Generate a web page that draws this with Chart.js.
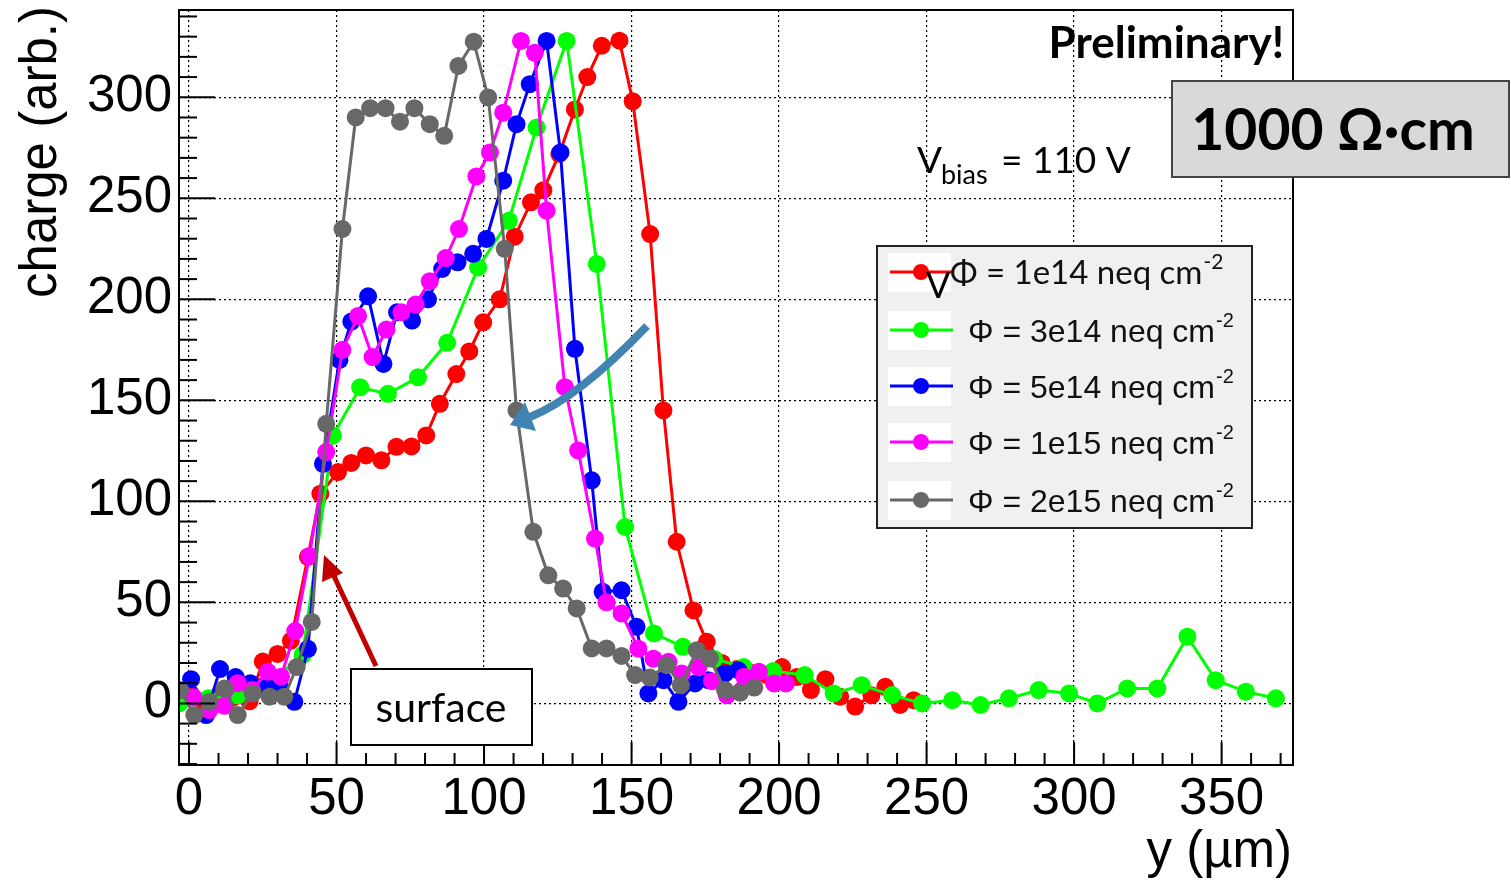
<!DOCTYPE html>
<html lang="en">
<head>
  <meta charset="UTF-8">
  <title>Charge profile vs depth, 1000 Ohm cm</title>
  <script src="https://cdn.jsdelivr.net/npm/chart.js"></script>
  <style>
    body {
      margin: 0;
      background: #fff;
    }

    #wrap {
      position: relative;
      width: 1511px;
      height: 882px;
    }
  </style>
</head>
<body>
  <div id="wrap"><canvas id="chartCharge"></canvas></div>

  <script>
    // tick labels
    const xTicks = [0, 50, 100, 150, 200, 250, 300, 350];
    const yTicks = [0, 50, 100, 150, 200, 250, 300];

    // fluence labels (legend), same order as the series below
    const fluences = ['1e14', '3e14', '5e14', '1e15', '2e15'];

    // Phi = 1e14 : y (um) and charge (arb.)
    const y1e14 = [0.5, 5, 10, 15, 20.5, 25, 30, 34.5, 40.3, 44.5, 50.5, 55, 60, 65.2, 70.3, 75.4, 80.4, 85, 90.6, 95,
      99.7, 105.3, 110.4, 115.9, 120.1, 125.5, 130.8, 135, 139.9, 145.9, 150.4, 156.3, 160.8, 165.3, 171,
      175.5, 180.6, 185.7, 190.8, 195.9, 201, 206, 210.8, 215.7, 220.7, 225.8, 231.3, 236, 241, 245.6];
    const q1e14 = [5, 1, 4, 3, 1, 20.7, 24.5, 31, 72.5, 103.8, 114.5, 119, 122.7, 120.3, 127, 127.2, 132.6, 148.3, 163, 174.2,
      188.6, 200, 231, 248, 254, 272, 294, 310, 325.5, 328, 298, 232.3, 145, 80, 46,
      30.5, 20, 17, 15, 14, 18, 13, 6.6, 12, 3.3, -1.6, 4, 8.2, -0.8, 1.6];

    // Phi = 3e14
    const y3e14 = [-3.3, 6.5, 16.5, 28, 38.5, 48.8, 58, 67.4, 77.6, 87.5, 98, 108.4, 117.8, 128, 138.2, 147.8, 157.6,
      167.4, 178, 188, 198, 208.7, 218.5, 228, 238.3, 248.5, 258.7, 268.3, 277.9, 288, 298.3, 307.9, 318,
      328.2, 338.4, 348, 358.2, 368.4];
    const q3e14 = [0, 2.5, 4, 11, 24, 132.6, 156.5, 153.2, 161.4, 178.5, 215.8, 238.9, 285, 327.9, 217.5, 87.3, 34.6,
      28, 22, 18, 16, 14, 4.9, 9, 4.1, 0, 1.6, -0.8, 2.5, 6.6, 4.9, 0, 7.4,
      7.4, 33, 11.5, 5.8, 2.5];

    // Phi = 5e14
    const y5e14 = [0.7, 5.8, 10.5, 15.8, 20.8, 25.8, 30.8, 35.7, 40.3, 45.4, 51, 55, 60.7, 65.9, 70.5, 75.6, 81, 85.8,
      91, 96.3, 100.8, 106.5, 111, 115.5, 121.2, 125.9, 130.8, 136.5, 140.2, 146.6, 151.7, 155.7, 160.8,
      165.9, 171.5, 176, 181.7, 186.2];
    const q5e14 = [12, -5.8, 17, 13, 10, 9, 8, 0.8, 27, 118.6, 170, 189, 201.5, 168, 193.6, 189.5, 200, 215,
      218.3, 222.5, 229.9, 258.7, 286.7, 306.5, 327.9, 272.7, 175.5, 110.4, 55.2, 56, 37.9, 4.9, 11.5,
      0.8, 9.9, 11.5, 14.8, 16.4];

    // Phi = 1e15
    const y1e15 = [1.5, 6.9, 12, 16.5, 21.3, 26.7, 31.2, 36, 40.8, 46.5, 52, 57.3, 62.2, 66.9, 72, 76.8, 81.6, 87,
      91.5, 97.4, 102, 106.5, 112.5, 117.2, 121.2, 127.4, 131.9, 137.6, 141.5, 146.6, 152.3, 157.4, 162.5,
      167, 172.7, 177.3, 182.3, 188.2, 193.2, 198.3, 202.3];
    const q1e15 = [3, -3.3, -1.2, 10, 6.6, 15.6, 13.2, 35.8, 73, 124.4, 175, 191.8, 171.4, 185, 193.6, 197.4, 209, 220.4,
      234.8, 260.8, 272.7, 292.4, 327.9, 322, 243.9, 156.5, 125.2, 81.6, 50, 44.5, 27.1, 22.1, 20.6,
      14.8, 18, 11, 4, 13.2, 15.6, 9.9, 9.9];

    // Phi = 2e15
    const y2e15 = [-3, 1.8, 6.9, 12, 16.5, 21.6, 27.3, 32.3, 36.5, 41.6, 46.5, 52, 56.5, 61.4, 66.6, 71.5, 76.4, 81.6,
      86.5, 91.3, 96.5, 101.4, 107, 111, 116.7, 121.8, 126.8, 131.4, 136.5, 141.5, 146.6, 151.2, 156.2,
      161.9, 166.7, 172.1, 176.6, 181.7, 186.8, 191.6];
    const q2e15 = [6.6, -5.8, 0.8, 7.4, -5.8, 4.9, 3.3, 3.3, 18, 40.3, 138.4, 234.8, 290, 294.6, 294.6, 287.9, 294.6, 286.7,
      280.9, 315.5, 327.5, 299.9, 225, 145, 84.9, 63.4, 56.8, 47, 27.2, 27.2, 23.5, 14, 12.8,
      18.9, 9, 26.3, 22.2, 6.6, 5.3, 7.8];

    const colors = ['#ff0000', '#00ff00', '#0000ff', '#ff00ff', '#686868'];
    const allY = [y1e14, y3e14, y5e14, y1e15, y2e15];
    const allQ = [q1e14, q3e14, q5e14, q1e15, q2e15];

    const datasets = fluences.map((f, i) => ({
      label: 'Φ = ' + f + ' neq cm-2',
      data: allY[i].map((v, k) => ({ x: v, y: allQ[i][k] })),
      borderColor: colors[i],
      backgroundColor: colors[i],
      pointBackgroundColor: colors[i],
      pointBorderWidth: 0,
      pointRadius: 9,
      borderWidth: 3,
      showLine: true,
      order: fluences.length - i   // gray on top, red at the bottom
    }));

    function seg(ctx, x1, y1, x2, y2) {
      ctx.beginPath();
      ctx.moveTo(x1, y1);
      ctx.lineTo(x2, y2);
      ctx.stroke();
    }

    // frame, inner ticks, legend and the text/arrows pasted on the plot
    const decor = {
      id: 'decor',
      afterDraw(chart) {
        const { ctx, chartArea: a, scales: { x, y } } = chart;
        ctx.save();

        // frame
        ctx.strokeStyle = '#000';
        ctx.lineWidth = 2;
        ctx.strokeRect(a.left, a.top, a.right - a.left, a.bottom - a.top);

        // ROOT style ticks inside the frame
        for (let v = 0; v <= 370; v += 10) {
          const px = x.getPixelForValue(v);
          seg(ctx, px, a.bottom, px, a.bottom - (v % 50 === 0 ? 23 : 12));
        }
        for (let v = -30; v <= 340; v += 10) {
          const py = y.getPixelForValue(v);
          if (py > a.bottom || py < a.top) continue;
          seg(ctx, a.left, py, a.left + (v % 50 === 0 ? 36 : 18), py);
        }

        // axis titles
        ctx.fillStyle = '#000';
        ctx.font = '51px "Liberation Sans"';
        ctx.textAlign = 'right';
        ctx.textBaseline = 'alphabetic';
        ctx.fillText('y (µm)', 1292, 867);
        ctx.save();
        ctx.translate(56, 6);
        ctx.rotate(-Math.PI / 2);
        ctx.fillText('charge (arb.)', 0, 0);
        ctx.restore();

        // legend box
        ctx.fillStyle = '#f0f0f0';
        ctx.fillRect(877, 246, 375, 282);
        ctx.strokeStyle = '#222';
        ctx.lineWidth = 2;
        ctx.strokeRect(877, 246, 375, 282);
        const rows = [272, 330, 386, 442, 500];
        fluences.forEach((f, i) => {
          const ry = rows[i];
          ctx.fillStyle = '#fff';
          ctx.fillRect(888, ry - 19, 63, 39);
          ctx.strokeStyle = colors[i];
          ctx.lineWidth = 3;
          seg(ctx, 890, ry, 953, ry);
          ctx.fillStyle = colors[i];
          ctx.beginPath();
          ctx.arc(921, ry, 8, 0, Math.PI * 2);
          ctx.fill();

          ctx.fillStyle = '#111';
          ctx.textAlign = 'left';
          const main = 'Φ = ' + f + ' neq cm';
          let x0, w;
          if (i === 0) {
            ctx.font = '33px Lato';
            x0 = 950;
          } else {
            ctx.font = '32px "Liberation Sans"';
            x0 = 968;
          }
          ctx.fillText(main, x0, ry + 12);
          w = ctx.measureText(main).width;
          ctx.font = (i === 0 ? '21px Lato' : '20px "Liberation Sans"');
          ctx.fillText('-2', x0 + w + 1, ry - 3);
        });
        // stray "V" sitting on the first legend entry
        ctx.font = '36px Lato';
        ctx.fillStyle = '#000';
        ctx.fillText('V', 926, 298);

        // Preliminary!
        ctx.font = 'bold 44px Lato';
        ctx.textAlign = 'right';
        ctx.fillText('Preliminary!', 1284, 58);

        // V_bias = 110 V
        ctx.textAlign = 'left';
        ctx.font = '37px Lato';
        ctx.fillText('V', 917, 173);
        ctx.font = '27px Lato';
        ctx.fillText('bias', 941, 184);
        ctx.font = '37px Lato';
        ctx.fillText('= 110 V', 1001, 173);

        // resistivity box
        ctx.fillStyle = '#d9d9d9';
        ctx.fillRect(1172, 81, 337, 96);
        ctx.strokeStyle = '#444';
        ctx.lineWidth = 2;
        ctx.strokeRect(1172, 81, 337, 96);
        ctx.fillStyle = '#000';
        ctx.font = 'bold 57px Lato';
        ctx.textAlign = 'center';
        ctx.fillText('1000 Ω·cm', 1333, 150);

        // surface label + red arrow
        ctx.fillStyle = '#fff';
        ctx.fillRect(351, 669, 181, 76);
        ctx.strokeStyle = '#000';
        ctx.strokeRect(351, 669, 181, 76);
        ctx.fillStyle = '#000';
        ctx.font = '41px Lato';
        ctx.fillText('surface', 441, 722);

        ctx.strokeStyle = '#c00000';
        ctx.fillStyle = '#c00000';
        ctx.lineWidth = 5;
        seg(ctx, 376, 666, 333, 574);
        ctx.beginPath();
        ctx.moveTo(324, 555);
        ctx.lineTo(343, 573);
        ctx.lineTo(322, 582);
        ctx.closePath();
        ctx.fill();

        // blue curved arrow
        ctx.strokeStyle = '#4183b2';
        ctx.fillStyle = '#4183b2';
        ctx.lineWidth = 8;
        ctx.lineCap = 'butt';
        ctx.beginPath();
        ctx.moveTo(647, 326);
        ctx.quadraticCurveTo(578, 398, 530, 417);
        ctx.stroke();
        ctx.beginPath();
        ctx.moveTo(510, 425);
        ctx.lineTo(525, 402);
        ctx.lineTo(536, 431);
        ctx.closePath();
        ctx.fill();

        ctx.restore();
      }
    };

    new Chart(document.getElementById('chartCharge'), {
      type: 'scatter',
      data: { datasets: datasets },
      options: {
        responsive: true,
        maintainAspectRatio: false,
        animation: false,
        layout: { padding: { left: 0, top: 10, right: 218, bottom: 0 } },
        plugins: {
          legend: { display: false },
          tooltip: { enabled: false }
        },
        scales: {
          x: {
            type: 'linear',
            min: -3.4,
            max: 374.2,
            afterBuildTicks: s => { s.ticks = xTicks.map(v => ({ value: v })); },
            afterFit: s => {
              s.height = 117;
              s.paddingLeft = 0;
              s.paddingRight = 0;
            },
            ticks: {
              color: '#000',
              font: { family: 'Liberation Sans', size: 51 },
              padding: 4,
              maxRotation: 0,
              autoSkip: false
            },
            grid: { color: '#000', lineWidth: 1.2, drawTicks: false },
            border: { display: false, dash: [2, 3] }
          },
          y: {
            type: 'linear',
            min: -30.5,
            max: 343.2,
            afterBuildTicks: s => { s.ticks = yTicks.map(v => ({ value: v })); },
            afterFit: s => {
              s.width = 179;
              s.paddingTop = 0;
              s.paddingBottom = 0;
            },
            ticks: {
              color: '#000',
              font: { family: 'Liberation Sans', size: 51 },
              padding: 7
            },
            grid: { color: '#000', lineWidth: 1.2, drawTicks: false },
            border: { display: false, dash: [2, 3] }
          }
        }
      },
      plugins: [decor]
    });
  </script>
</body>
</html>
